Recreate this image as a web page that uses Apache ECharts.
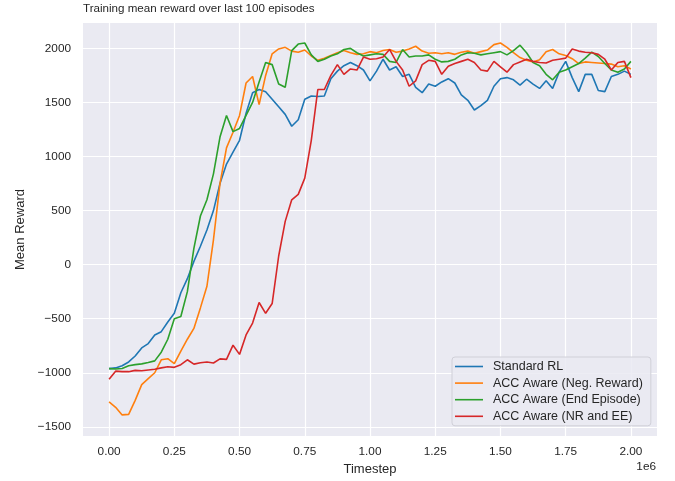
<!DOCTYPE html>
<html>
<head>
<meta charset="utf-8">
<script src="https://cdn.jsdelivr.net/npm/echarts@6/dist/echarts.min.js"></script>
<style>
html,body{margin:0;padding:0;background:#fff;}
#chart{width:675px;height:481px;}
</style>
</head>
<body>
<div id="chart"></div>
<script>
// Timesteps in units of 1e6
const timesteps = [0,0.025,0.05,0.075,0.1,0.125,0.15,0.175,0.2,0.225,0.25,0.275,0.3,0.325,0.35,0.375,0.4,0.425,0.45,0.475,0.5,0.525,0.55,0.575,0.6,0.625,0.65,0.675,0.7,0.725,0.75,0.775,0.8,0.825,0.85,0.875,0.9,0.925,0.95,0.975,1.0,1.025,1.05,1.075,1.1,1.125,1.15,1.175,1.2,1.225,1.25,1.275,1.3,1.325,1.35,1.375,1.4,1.425,1.45,1.475,1.5,1.525,1.55,1.575,1.6,1.625,1.65,1.675,1.7,1.725,1.75,1.775,1.8,1.825,1.85,1.875,1.9,1.925,1.95,1.975,2.0];

const standardRL = [-962,-955,-935,-900,-845,-770,-730,-650,-620,-530,-450,-260,-130,30,170,320,500,750,930,1040,1150,1400,1590,1620,1600,1530,1460,1390,1280,1340,1530,1560,1555,1560,1720,1790,1840,1870,1840,1800,1700,1790,1900,1800,1830,1740,1760,1640,1590,1670,1650,1690,1720,1680,1570,1520,1430,1470,1520,1650,1720,1730,1710,1660,1715,1670,1630,1700,1630,1780,1880,1730,1600,1760,1760,1610,1600,1740,1760,1790,1760];

const negReward = [-1270,-1320,-1390,-1385,-1255,-1110,-1055,-1000,-880,-870,-915,-800,-690,-590,-400,-200,230,750,1080,1225,1380,1680,1740,1480,1750,1950,1995,2010,1975,1965,1985,1930,1890,1910,1935,1960,1980,1960,1945,1950,1970,1960,1980,1990,1965,1975,1995,2020,1975,1955,1960,1950,1960,1945,1965,1975,1955,1970,1985,2035,2050,2010,1960,1915,1890,1875,1895,1970,1990,1950,1935,1905,1860,1875,1870,1865,1860,1855,1830,1840,1810];

const endEpisode = [-962,-965,-960,-935,-925,-918,-905,-890,-810,-690,-500,-480,-250,150,450,600,840,1180,1380,1230,1260,1380,1500,1690,1870,1850,1670,1640,1980,2040,2050,1940,1880,1900,1930,1950,1990,2000,1960,1930,1940,1950,1945,1880,1870,1990,1920,1930,1930,1940,1900,1875,1880,1900,1940,1960,1955,1940,1950,1960,1970,1940,1980,2030,1960,1870,1840,1760,1710,1780,1800,1830,1860,1910,1965,1925,1860,1800,1780,1810,1880];

const nrAndEE = [-1060,-985,-990,-990,-978,-982,-975,-968,-955,-945,-950,-925,-880,-920,-907,-900,-910,-872,-876,-745,-830,-650,-540,-350,-450,-360,80,400,600,650,800,1150,1620,1620,1750,1850,1760,1810,1800,1920,1900,1905,1920,1990,1880,1800,1650,1700,1850,1890,1880,1760,1835,1860,1880,1900,1870,1800,1790,1880,1830,1780,1850,1875,1900,1880,1870,1865,1890,1900,1910,1995,1975,1965,1960,1945,1900,1800,1870,1880,1730];

const seriesNames = ['Standard RL','ACC Aware (Neg. Reward)','ACC Aware (End Episode)','ACC Aware (NR and EE)'];
const seriesColors = ['#1f77b4','#ff7f0e','#2ca02c','#d62728'];
const seriesValues = [standardRL, negReward, endEpisode, nrAndEE];

// Tick positions
const xTicks = [0, 250000, 500000, 750000, 1000000, 1250000, 1500000, 1750000, 2000000];
const yTicks = [-1500, -1000, -500, 0, 500, 1000, 1500, 2000];

const titleText = 'Training mean reward over last 100 episodes';
const xLabel = 'Timestep';
const yLabel = 'Mean Reward';
const offsetText = '1e6';

const FONT = '"Liberation Sans", Arial, sans-serif';
const TXT = '#262626';

const chart = echarts.init(document.getElementById('chart'), null, {renderer:'canvas'});

const series = seriesValues.map((vals, i) => ({
  name: seriesNames[i],
  type: 'line',
  symbol: 'none',
  showSymbol: false,
  animation: false,
  lineStyle: {width: 1.6, color: seriesColors[i]},
  itemStyle: {color: seriesColors[i]},
  data: vals.map((v, k) => [timesteps[k] * 1e6, v])
}));

chart.setOption({
  backgroundColor: '#ffffff',
  animation: false,
  title: {
    text: titleText,
    left: 83, top: 3, padding: 0,
    textStyle: {fontFamily: FONT, fontSize: 11.6, fontWeight: 'normal', color: TXT}
  },
  grid: {
    left: 83, right: 18, top: 23, bottom: 45,
    show: true, backgroundColor: '#EAEAF2', borderWidth: 0, containLabel: false
  },
  legend: {
    orient: 'vertical',
    left: 452, top: 357,
    padding: [3, 8, 3, 3],
    itemWidth: 28, itemHeight: 14, itemGap: 3.6,
    icon: 'path://M0,0H28V1.6H0Z',
    backgroundColor: 'rgba(234,234,242,0.85)',
    borderColor: '#d0d0d8', borderWidth: 1, borderRadius: 3,
    textStyle: {fontFamily: FONT, fontSize: 12.5, color: TXT, padding: [0,0,0,5]},
    data: seriesNames
  },
  xAxis: {
    type: 'value',
    min: -100000, max: 2100000,
    name: xLabel, nameLocation: 'middle', nameGap: 27,
    nameTextStyle: {fontFamily: FONT, fontSize: 13, color: TXT},
    axisLine: {show: false},
    axisTick: {show: false, customValues: xTicks},
    axisLabel: {
      fontFamily: FONT, fontSize: 11.8, color: TXT, margin: 10,
      customValues: xTicks,
      formatter: v => (v / 1e6).toFixed(2)
    },
    splitLine: {show: true, lineStyle: {color: '#ffffff', width: 1.2}}
  },
  yAxis: {
    type: 'value',
    min: -1585, max: 2235,
    name: yLabel, nameLocation: 'middle', nameGap: 53, nameRotate: 90,
    nameTextStyle: {fontFamily: FONT, fontSize: 13, color: TXT},
    axisLine: {show: false},
    axisTick: {show: false, customValues: yTicks},
    axisLabel: {
      fontFamily: FONT, fontSize: 11.8, color: TXT, margin: 12,
      customValues: yTicks,
      formatter: v => String(v).replace('-', '\u2212')
    },
    splitLine: {show: true, lineStyle: {color: '#ffffff', width: 1.2}}
  },
  graphic: [{
    type: 'text', right: 19, top: 461,
    style: {text: offsetText, fontFamily: FONT, fontSize: 11.8, fill: TXT}
  }],
  series: series
});
</script>
</body>
</html>
